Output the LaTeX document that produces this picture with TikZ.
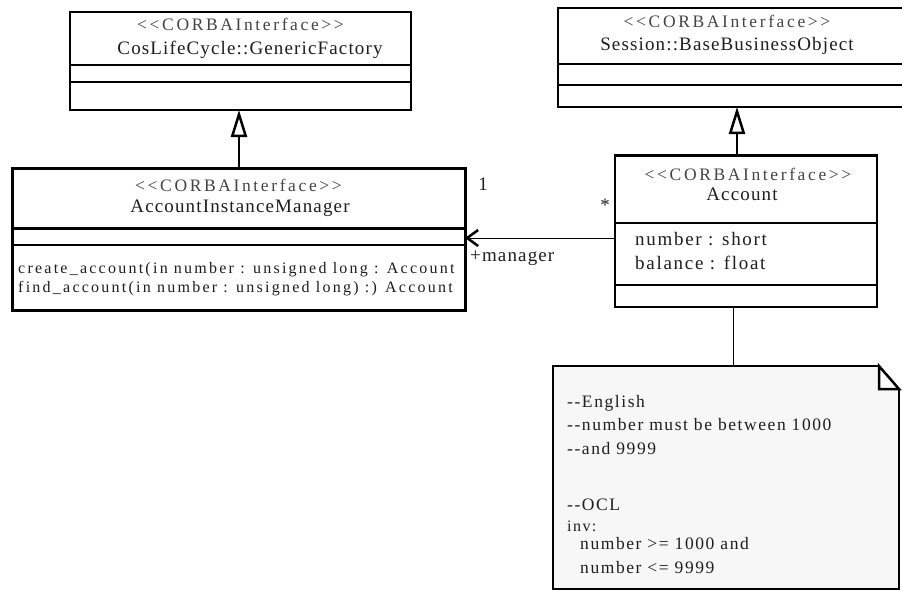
\documentclass[tikz,border=0pt]{standalone}
\usepackage{fontspec}
\setmainfont{Liberation Serif}
\newfontfamily\stereofont[LetterSpace=15,Ligatures=TeXOff]{Liberation Serif}
\newfontfamily\namefont[LetterSpace=6,Ligatures=TeXOff]{Liberation Serif}
\newfontfamily\memberfont[LetterSpace=9,Ligatures=TeXOff]{Liberation Serif}
\newfontfamily\opfont[LetterSpace=14,Ligatures=TeXOff]{Liberation Serif}
\newfontfamily\notefont[LetterSpace=9,Ligatures=TeXOff]{Liberation Serif}
\usetikzlibrary{arrows.meta}
\definecolor{inkgray}{HTML}{1E1E1E}
\definecolor{stereogray}{HTML}{444444}
\definecolor{notefill}{HTML}{F7F7F7}

\begin{document}
\begin{tikzpicture}[x=1pt,y=-1pt,
  classbox/.style={draw=black, fill=white, inner sep=0pt, outer sep=0pt},
  divider/.style={draw=black},
  stereo/.style={anchor=base, inner sep=0pt, text=stereogray,
    font=\stereofont\fontsize{17.5}{21}\selectfont},
  classname/.style={anchor=base, inner sep=0pt, text=inkgray,
    font=\namefont\fontsize{19}{22}\selectfont},
  member/.style={anchor=base west, inner sep=0pt, text=inkgray,
    font=\memberfont\fontsize{19}{22}\selectfont},
  operation/.style={anchor=base west, inner sep=0pt, text=inkgray,
    font=\opfont\fontsize{16}{19}\selectfont},
  notetext/.style={anchor=base west, inner sep=0pt, text=inkgray,
    font=\notefont\fontsize{17.5}{21}\selectfont},
  rolelabel/.style={anchor=base west, inner sep=0pt, text=inkgray,
    font=\namefont\fontsize{19}{22}\selectfont},
  gen/.style={line width=2.5pt,
    -{Triangle[open, fill=white, length=27pt, width=16pt, line width=2.5pt]}},
  assoc/.style={line width=1pt,
    -{Straight Barb[length=11pt, width=16pt, line width=2.5pt]}},
  anchorline/.style={line width=1pt}
]
\useasboundingbox (0,0) rectangle (902,590);

% ---- CosLifeCycle::GenericFactory ----
\node[classbox, line width=2pt, minimum width=341pt, minimum height=98pt]
  (factory) at (240.5,61) {};
\draw[divider, line width=2.5pt] (factory.west |- 0,65) -- (factory.east |- 0,65);
\draw[divider, line width=2.5pt] (factory.west |- 0,82) -- (factory.east |- 0,82);
\node[stereo] (factoryst) at (240.5,30) {<<CORBAInterface>>};
\node[classname] (factorynm) at (250,54) {CosLifeCycle::GenericFactory};

% ---- Session::BaseBusinessObject (runs past the right edge) ----
\node[classbox, line width=1.8pt, minimum width=350pt, minimum height=99pt]
  (base) at (733,57.5) {};
\draw[divider, line width=2.5pt] (base.west |- 0,64) -- (base.east |- 0,64);
\draw[divider, line width=2.5pt] (base.west |- 0,85) -- (base.east |- 0,85);
\node[stereo] (basest) at (727,27) {<<CORBAInterface>>};
\node[classname] (basenm) at (727,50.5) {Session::BaseBusinessObject};

% ---- AccountInstanceManager ----
\node[classbox, line width=3pt, minimum width=453pt, minimum height=142pt]
  (aim) at (238.5,239) {};
\draw[divider, line width=3pt] (aim.west |- 0,228) -- (aim.east |- 0,228);
\draw[divider, line width=1.5pt] (aim.west |- 0,245) -- (aim.east |- 0,245);
\node[stereo] (aimst) at (238.5,191) {<<CORBAInterface>>};
\node[classname] (aimnm) at (240,212) {AccountInstanceManager};
\node[operation] (aimop1) at (18,273) {create\_account(in number : unsigned long : Account};
\node[operation] (aimop2) at (18,292) {find\_account(in number : unsigned long) :) Account};

% ---- Account ----
\node[classbox, line width=2pt, minimum width=262pt, minimum height=152pt]
  (account) at (746,231) {};
\draw[line width=3pt] (account.north west) -- (account.north east);
\draw[divider, line width=1.2pt] (account.west |- 0,223) -- (account.east |- 0,223);
\draw[divider, line width=1.2pt] (account.west |- 0,285) -- (account.east |- 0,285);
\node[stereo] (accst) at (748,180) {<<CORBAInterface>>};
\node[classname] (accnm) at (742,200) {Account};
\node[member] (accattr1) at (635,245) {number : short};
\node[member] (accattr2) at (635,269) {balance : float};

% ---- generalizations ----
\coordinate (g1) at (239,0);
\coordinate (g2) at (737,0);
\draw[gen] (aim.north -| g1) -- (factory.south -| g1);
\draw[gen] (account.north -| g2) -- (base.south -| g2);

% ---- association Account -> AccountInstanceManager ----
\coordinate (assocy) at (0,238);
\draw[assoc] (account.west |- assocy) -- (aim.east |- assocy);
\node[rolelabel, anchor=base] (multone) at (483,190) {1};
\node[rolelabel, anchor=base] (multmany) at (605,211) {*};
\node[rolelabel] (role) at (470,261) {+manager};

% ---- note ----
\node[inner sep=0pt, minimum width=346pt, minimum height=223pt]
  (note) at (726,477.5) {};
\fill[notefill] (553,366) -- (879,366) -- (899,389) -- (899,589) -- (553,589) -- cycle;
\draw[line width=1.5pt] (899,389) -- (899,589) -- (553,589) -- (553,366) -- (879,366);
\draw[line width=2.5pt] (899,389) -- (899,589) -- (553,589);
\fill[white] (879,366) -- (899,389) -- (879,389) -- cycle;
\draw[line width=2.5pt, line join=miter] (879,366) -- (879,389) -- (899,389) -- cycle;
\coordinate (notetop) at (733,366);
\draw[anchorline] (notetop |- account.south) -- (notetop);

\node[notetext] (n1) at (567,407) {--English};
\node[notetext] (n2) at (567,430) {--number must be between 1000};
\node[notetext] (n3) at (567,454) {--and 9999};
\node[notetext] (n4) at (567,510) {--OCL};
\node[notetext, font=\notefont\fontsize{16}{19}\selectfont] (n5) at (567,531) {inv:};
\node[notetext] (n6) at (580,549) {number >= 1000 and};
\node[notetext] (n7) at (580,573) {number <= 9999};
\end{tikzpicture}
\end{document}
